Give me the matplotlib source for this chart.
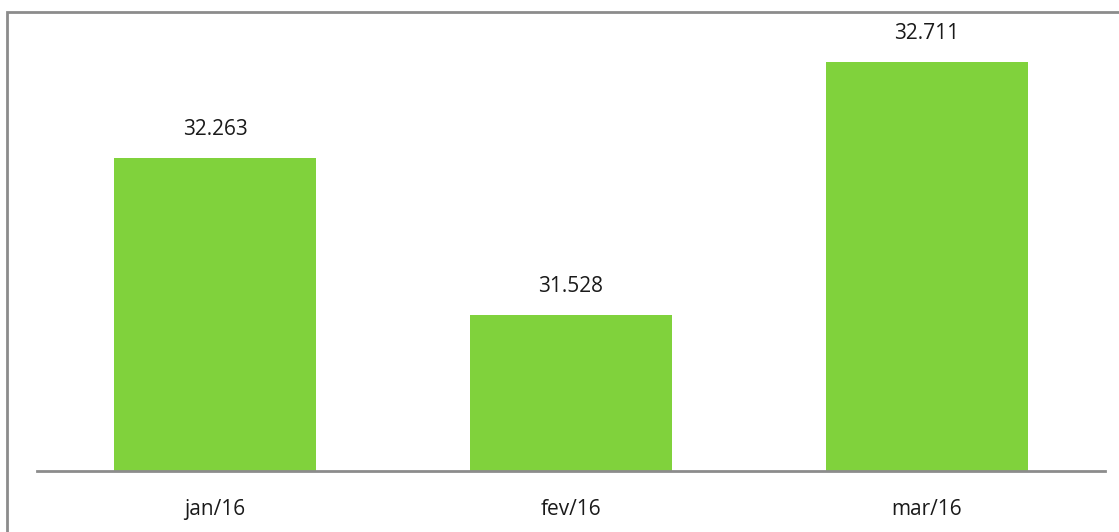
import matplotlib.pyplot as plt
from matplotlib.patches import Rectangle

months = ['jan/16', 'fev/16', 'mar/16']
values = [32263, 31528, 32711]

plt.rcParams['font.family'] = ['Open Sans', 'DejaVu Sans']

fig = plt.figure(figsize=(11.19, 5.32), dpi=100)
ax = fig.add_axes([37 / 1119, 61 / 532, 1068 / 1119, 471 / 532])

x = range(len(months))
bars = ax.bar(x, values, width=0.57, color='#80D23C', zorder=2)
ax.set_xlim(-0.5, 2.5)
ax.set_ylim(30800, 33000)

for b, v in zip(bars, values):
    label = f'{v:,}'.replace(',', '.')
    ax.annotate(label, (b.get_x() + b.get_width() / 2, v), xytext=(0, 13),
                textcoords='offset points', ha='center', va='bottom',
                fontsize=15, color='#1a1a1a')

ax.set_xticks(list(x))
ax.set_xticklabels(months, fontsize=15, color='#1a1a1a')
ax.tick_params(axis='x', length=0, pad=20)
ax.set_yticks([])
for s in ['top', 'right', 'left']:
    ax.spines[s].set_visible(False)
ax.spines['bottom'].set_color('#8c8c8c')
ax.spines['bottom'].set_linewidth(2)

# outer chart frame, cut off at right and bottom
fig.patches.append(Rectangle((7 / 1119, -0.1), 1.2, 1.1 - 12 / 532,
                             transform=fig.transFigure, fill=False,
                             edgecolor='#8c8c8c', linewidth=2))

fig.savefig('out.png', dpi=100)
